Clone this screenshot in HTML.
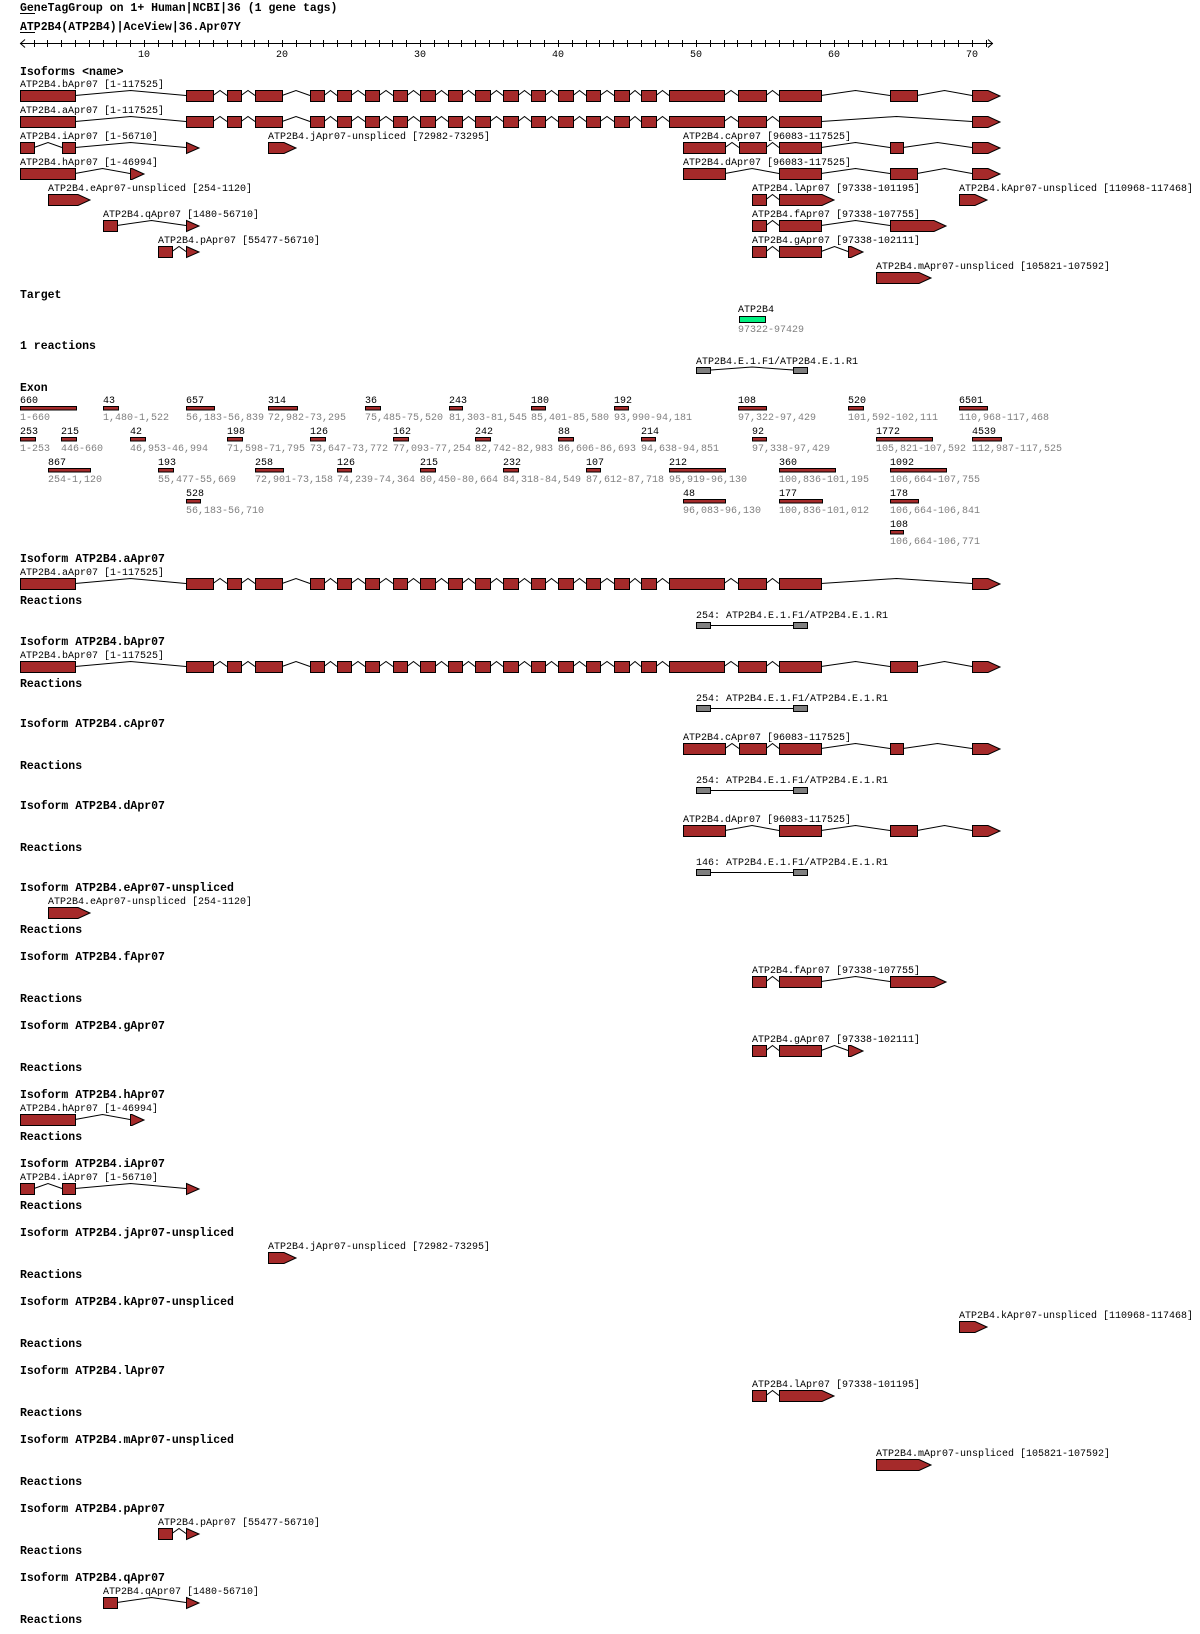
<!DOCTYPE html>
<html><head><meta charset="utf-8"><style>
html,body{margin:0;padding:0;background:#fff;}
svg{display:block;}
text{font-family:"Liberation Mono",monospace;font-size:10px;fill:#000;}
.h{font-size:11.5px;font-weight:bold;}
.g{fill:#808080;}
</style></head><body>
<svg id="s" width="1200" height="1634" viewBox="0 0 1200 1634" xmlns="http://www.w3.org/2000/svg">
<rect width="1200" height="1634" fill="#fff"/>
<text class="h" x="20" y="11">GeneTagGroup on 1+ Human|NCBI|36 (1 gene tags)</text>
<line x1="20" y1="13.5" x2="35" y2="13.5" stroke="#000"/>
<text class="h" x="20" y="30">ATP2B4(ATP2B4)|AceView|36.Apr07Y</text>
<line x1="20" y1="32.5" x2="35" y2="32.5" stroke="#000"/>
<g text-anchor="middle">
<text x="144" y="57">10</text><text x="282" y="57">20</text><text x="420" y="57">30</text><text x="558" y="57">40</text><text x="696" y="57">50</text><text x="834" y="57">60</text><text x="972" y="57">70</text>
</g>
<text class="h" x="20" y="75">Isoforms &lt;name&gt;</text>
<g id="lab">
<text x="20" y="87">ATP2B4.bApr07 [1-117525]</text>
<text x="20" y="113">ATP2B4.aApr07 [1-117525]</text>
<text x="20" y="139">ATP2B4.iApr07 [1-56710]</text>
<text x="268" y="139">ATP2B4.jApr07-unspliced [72982-73295]</text>
<text x="683" y="139">ATP2B4.cApr07 [96083-117525]</text>
<text x="20" y="165">ATP2B4.hApr07 [1-46994]</text>
<text x="683" y="165">ATP2B4.dApr07 [96083-117525]</text>
<text x="48" y="191">ATP2B4.eApr07-unspliced [254-1120]</text>
<text x="752" y="191">ATP2B4.lApr07 [97338-101195]</text>
<text x="959" y="191">ATP2B4.kApr07-unspliced [110968-117468]</text>
<text x="103" y="217">ATP2B4.qApr07 [1480-56710]</text>
<text x="752" y="217">ATP2B4.fApr07 [97338-107755]</text>
<text x="158" y="243">ATP2B4.pApr07 [55477-56710]</text>
<text x="752" y="243">ATP2B4.gApr07 [97338-102111]</text>
<text x="876" y="269">ATP2B4.mApr07-unspliced [105821-107592]</text>
</g>
<text class="h" x="20" y="298">Target</text>
<text x="738" y="312">ATP2B4</text>
<rect x="739.5" y="316.5" width="26" height="6" fill="#00f080" stroke="#000"/>
<text class="g" x="738" y="332">97322-97429</text>
<text class="h" x="20" y="349">1 reactions</text>
<text x="696" y="364">ATP2B4.E.1.F1/ATP2B4.E.1.R1</text>
<polyline points="711,370 752,367 793,370" fill="none" stroke="#000"/>
<rect x="696.5" y="367.5" width="14" height="6" fill="#808080" stroke="#000"/>
<rect x="793.5" y="367.5" width="14" height="6" fill="#808080" stroke="#000"/>
<text class="h" x="20" y="391">Exon</text>
<g id="exlab">
<text x="20" y="403">660</text><text class="g" x="20" y="420">1-660</text>
<text x="103" y="403">43</text><text class="g" x="103" y="420">1,480-1,522</text>
<text x="186" y="403">657</text><text class="g" x="186" y="420">56,183-56,839</text>
<text x="268" y="403">314</text><text class="g" x="268" y="420">72,982-73,295</text>
<text x="365" y="403">36</text><text class="g" x="365" y="420">75,485-75,520</text>
<text x="449" y="403">243</text><text class="g" x="449" y="420">81,303-81,545</text>
<text x="531" y="403">180</text><text class="g" x="531" y="420">85,401-85,580</text>
<text x="614" y="403">192</text><text class="g" x="614" y="420">93,990-94,181</text>
<text x="738" y="403">108</text><text class="g" x="738" y="420">97,322-97,429</text>
<text x="848" y="403">520</text><text class="g" x="848" y="420">101,592-102,111</text>
<text x="959" y="403">6501</text><text class="g" x="959" y="420">110,968-117,468</text>

<text x="20" y="434">253</text><text class="g" x="20" y="451">1-253</text>
<text x="61" y="434">215</text><text class="g" x="61" y="451">446-660</text>
<text x="130" y="434">42</text><text class="g" x="130" y="451">46,953-46,994</text>
<text x="227" y="434">198</text><text class="g" x="227" y="451">71,598-71,795</text>
<text x="310" y="434">126</text><text class="g" x="310" y="451">73,647-73,772</text>
<text x="393" y="434">162</text><text class="g" x="393" y="451">77,093-77,254</text>
<text x="475" y="434">242</text><text class="g" x="475" y="451">82,742-82,983</text>
<text x="558" y="434">88</text><text class="g" x="558" y="451">86,606-86,693</text>
<text x="641" y="434">214</text><text class="g" x="641" y="451">94,638-94,851</text>
<text x="752" y="434">92</text><text class="g" x="752" y="451">97,338-97,429</text>
<text x="876" y="434">1772</text><text class="g" x="876" y="451">105,821-107,592</text>
<text x="972" y="434">4539</text><text class="g" x="972" y="451">112,987-117,525</text>

<text x="48" y="465">867</text><text class="g" x="48" y="482">254-1,120</text>
<text x="158" y="465">193</text><text class="g" x="158" y="482">55,477-55,669</text>
<text x="255" y="465">258</text><text class="g" x="255" y="482">72,901-73,158</text>
<text x="337" y="465">126</text><text class="g" x="337" y="482">74,239-74,364</text>
<text x="420" y="465">215</text><text class="g" x="420" y="482">80,450-80,664</text>
<text x="503" y="465">232</text><text class="g" x="503" y="482">84,318-84,549</text>
<text x="586" y="465">107</text><text class="g" x="586" y="482">87,612-87,718</text>
<text x="669" y="465">212</text><text class="g" x="669" y="482">95,919-96,130</text>
<text x="779" y="465">360</text><text class="g" x="779" y="482">100,836-101,195</text>
<text x="890" y="465">1092</text><text class="g" x="890" y="482">106,664-107,755</text>

<text x="186" y="496">528</text><text class="g" x="186" y="513">56,183-56,710</text>
<text x="683" y="496">48</text><text class="g" x="683" y="513">96,083-96,130</text>
<text x="779" y="496">177</text><text class="g" x="779" y="513">100,836-101,012</text>
<text x="890" y="496">178</text><text class="g" x="890" y="513">106,664-106,841</text>

<text x="890" y="527">108</text><text class="g" x="890" y="544">106,664-106,771</text>
</g>

<text class="h" x="20" y="562">Isoform ATP2B4.aApr07</text><text x="20" y="575">ATP2B4.aApr07 [1-117525]</text><text class="h" x="20" y="604">Reactions</text><text x="696" y="618">254: ATP2B4.E.1.F1/ATP2B4.E.1.R1</text>
<text class="h" x="20" y="645">Isoform ATP2B4.bApr07</text><text x="20" y="658">ATP2B4.bApr07 [1-117525]</text><text class="h" x="20" y="687">Reactions</text><text x="696" y="701">254: ATP2B4.E.1.F1/ATP2B4.E.1.R1</text>
<text class="h" x="20" y="727">Isoform ATP2B4.cApr07</text><text x="683" y="740">ATP2B4.cApr07 [96083-117525]</text><text class="h" x="20" y="769">Reactions</text><text x="696" y="783">254: ATP2B4.E.1.F1/ATP2B4.E.1.R1</text>
<text class="h" x="20" y="809">Isoform ATP2B4.dApr07</text><text x="683" y="822">ATP2B4.dApr07 [96083-117525]</text><text class="h" x="20" y="851">Reactions</text><text x="696" y="865">146: ATP2B4.E.1.F1/ATP2B4.E.1.R1</text>
<text class="h" x="20" y="891">Isoform ATP2B4.eApr07-unspliced</text><text x="48" y="904">ATP2B4.eApr07-unspliced [254-1120]</text><text class="h" x="20" y="933">Reactions</text>
<text class="h" x="20" y="960">Isoform ATP2B4.fApr07</text><text x="752" y="973">ATP2B4.fApr07 [97338-107755]</text><text class="h" x="20" y="1002">Reactions</text>
<text class="h" x="20" y="1029">Isoform ATP2B4.gApr07</text><text x="752" y="1042">ATP2B4.gApr07 [97338-102111]</text><text class="h" x="20" y="1071">Reactions</text>
<text class="h" x="20" y="1098">Isoform ATP2B4.hApr07</text><text x="20" y="1111">ATP2B4.hApr07 [1-46994]</text><text class="h" x="20" y="1140">Reactions</text>
<text class="h" x="20" y="1167">Isoform ATP2B4.iApr07</text><text x="20" y="1180">ATP2B4.iApr07 [1-56710]</text><text class="h" x="20" y="1209">Reactions</text>
<text class="h" x="20" y="1236">Isoform ATP2B4.jApr07-unspliced</text><text x="268" y="1249">ATP2B4.jApr07-unspliced [72982-73295]</text><text class="h" x="20" y="1278">Reactions</text>
<text class="h" x="20" y="1305">Isoform ATP2B4.kApr07-unspliced</text><text x="959" y="1318">ATP2B4.kApr07-unspliced [110968-117468]</text><text class="h" x="20" y="1347">Reactions</text>
<text class="h" x="20" y="1374">Isoform ATP2B4.lApr07</text><text x="752" y="1387">ATP2B4.lApr07 [97338-101195]</text><text class="h" x="20" y="1416">Reactions</text>
<text class="h" x="20" y="1443">Isoform ATP2B4.mApr07-unspliced</text><text x="876" y="1456">ATP2B4.mApr07-unspliced [105821-107592]</text><text class="h" x="20" y="1485">Reactions</text>
<text class="h" x="20" y="1512">Isoform ATP2B4.pApr07</text><text x="158" y="1525">ATP2B4.pApr07 [55477-56710]</text><text class="h" x="20" y="1554">Reactions</text>
<text class="h" x="20" y="1581">Isoform ATP2B4.qApr07</text><text x="103" y="1594">ATP2B4.qApr07 [1480-56710]</text><text class="h" x="20" y="1623">Reactions</text>
<g id="shapes"></g>
</svg>
<script>
(function(){
var NS="http://www.w3.org/2000/svg",g=document.getElementById("shapes"),R="#a52a2a";
function el(t,a){var e=document.createElementNS(NS,t);for(var k in a)e.setAttribute(k,a[k]);g.appendChild(e);return e;}
// axis
el("line",{x1:20,y1:43.5,x2:993,y2:43.5,stroke:"#000"});
for(var u=2;u<=71;u++){var x=Math.round(19.8+(u-1)*13.8)+.5;el("line",{x1:x,y1:40,x2:x,y2:47,stroke:"#000"});}
el("polyline",{points:"25,39.5 20.5,43.5 25,47.5",fill:"none",stroke:"#000"});
el("polyline",{points:"988,39.5 992.5,43.5 988,47.5",fill:"none",stroke:"#000"});
function iso(y,ex,ar){
  var parts=ex.slice();if(ar)parts.push(ar);
  for(var i=0;i<parts.length-1;i++){var a=parts[i][1],b=parts[i+1][0];
    el("polyline",{points:a+","+(y+5.5)+" "+((a+b)/2)+","+(y+0.5)+" "+b+","+(y+5.5),fill:"none",stroke:"#000"});}
  ex.forEach(function(e){el("rect",{x:e[0]+.5,y:y+.5,width:e[1]-e[0],height:11,fill:R,stroke:"#000"});});
  if(ar){var x1=ar[0]+.5,x2=ar[1],w=x2-x1,t=Math.min(12,w),xb=x2-t,pts;
    if(xb<=x1+0.6)pts=x1+","+(y+.5)+" "+x2+","+(y+6)+" "+x1+","+(y+11.5);
    else pts=x1+","+(y+.5)+" "+xb+","+(y+.5)+" "+x2+","+(y+6)+" "+xb+","+(y+11.5)+" "+x1+","+(y+11.5);
    el("polygon",{points:pts,fill:R,stroke:"#000"});}
}
var A=[[20,75],[186,213],[227,241],[255,282],[310,324],[337,351],[365,379],[393,407],[420,435],[448,462],[475,490],[503,518],[531,545],[558,573],[586,600],[614,629],[641,656],[669,724],[738,766],[779,821]];
var B=A.concat([[890,917]]),AR=[972,1000];
var S={
 b:[B,AR],a:[A,AR],c:[[[683,725],[739,766],[779,821],[890,903]],AR],d:[[[683,725],[779,821],[890,917]],AR],
 e:[[],[48,90]],f:[[[752,766],[779,821]],[890,946]],g:[[[752,766],[779,821]],[848,863]],h:[[[20,75]],[130,144]],
 i:[[[20,34],[62,75]],[186,199]],j:[[],[268,296]],k:[[],[959,987]],l:[[[752,766]],[779,834]],m:[[],[876,931]],
 p:[[[158,172]],[186,199]],q:[[[103,117]],[186,199]]};
var top={b:90,a:116,i:142,j:142,c:142,h:168,d:168,e:194,l:194,k:194,q:220,f:220,p:246,g:246,m:272};
for(var k in top)iso(top[k],S[k][0],S[k][1]);
var sec={a:558,b:641,c:723,d:805,e:887,f:956,g:1025,h:1094,i:1163,j:1232,k:1301,l:1370,m:1439,p:1508,q:1577};
for(var k in sec){var Y=sec[k];iso(Y+20,S[k][0],S[k][1]);
  if("abcd".indexOf(k)>=0){var ry=Y+64;
    el("line",{x1:711,y1:ry+3.5,x2:793,y2:ry+3.5,stroke:"#000"});
    el("rect",{x:696.5,y:ry+.5,width:14,height:6,fill:"#808080",stroke:"#000"});
    el("rect",{x:793.5,y:ry+.5,width:14,height:6,fill:"#808080",stroke:"#000"});}}
// exon table bars
var rows=[406,437,468,499,530];
var EX=[
 [[20,76],[103,118],[186,214],[268,297],[365,380],[449,462],[531,545],[614,628],[738,766],[848,863],[959,987]],
 [[20,35],[61,76],[130,145],[227,242],[310,325],[393,408],[475,490],[558,573],[641,655],[752,766],[876,932],[972,1001]],
 [[48,90],[158,173],[255,283],[337,351],[420,435],[503,518],[586,600],[669,725],[779,835],[890,946]],
 [[186,200],[683,725],[779,822],[890,918]],
 [[890,903]]];
EX.forEach(function(r,i){r.forEach(function(e){el("rect",{x:e[0]+.5,y:rows[i]+.5,width:e[1]-e[0],height:3.5,fill:R,stroke:"#000"});});});
})();
</script>
</body></html>
